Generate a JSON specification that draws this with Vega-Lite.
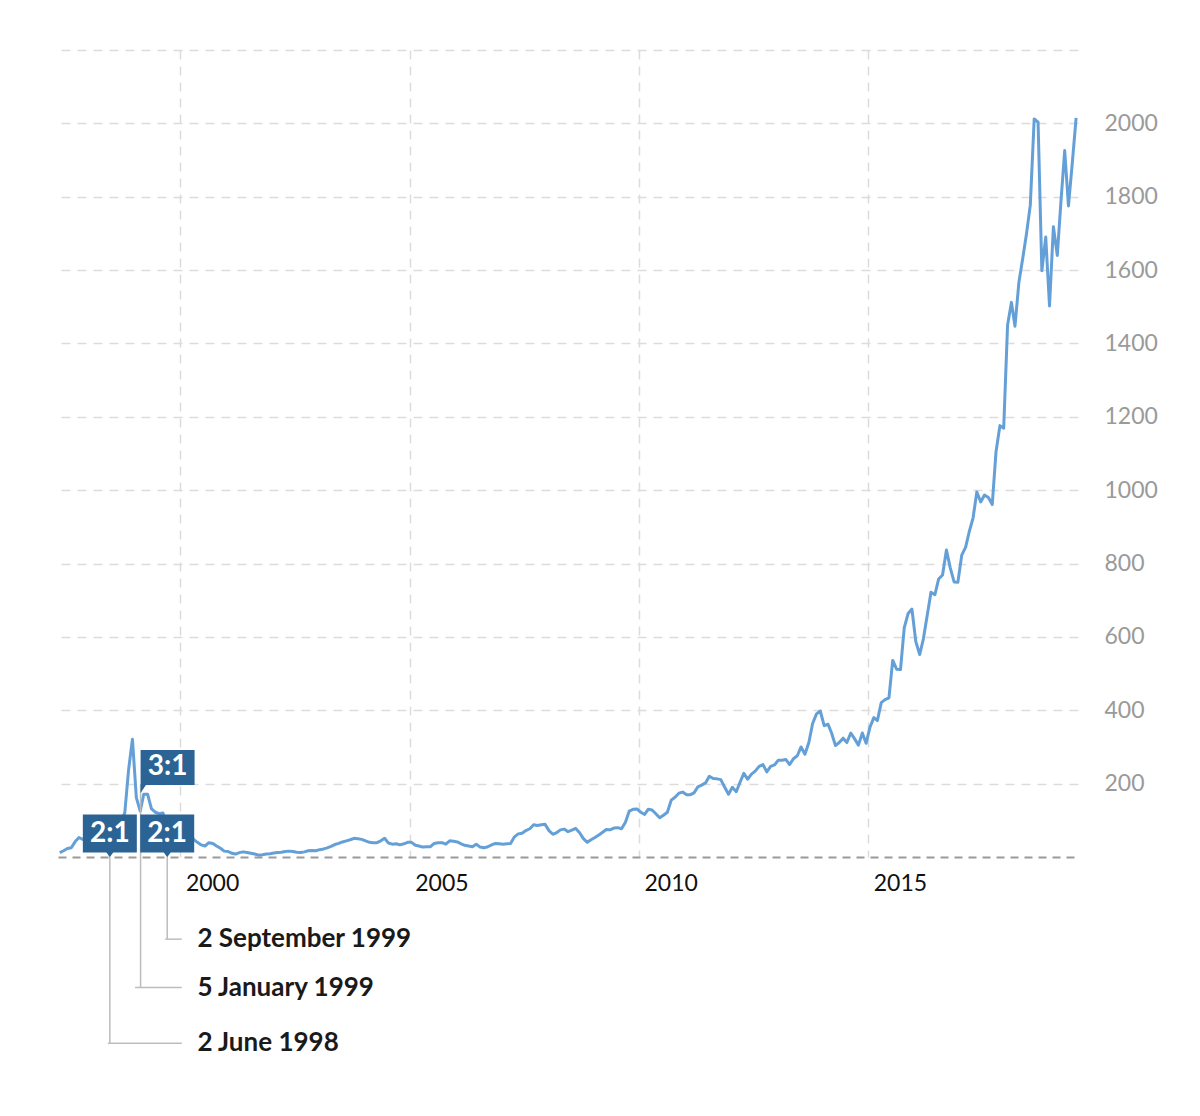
{
  "$schema": "https://vega.github.io/schema/vega-lite/v6.json",
  "width": 1020,
  "height": 807,
  "padding": {"left": 58, "top": 50, "right": 0, "bottom": 0},
  "background": "white",
  "config": {"view": {"stroke": null}, "font": "Lato"},
  "datasets": {
    "prices": [
      {"date":"1997-05-15","price":12},{"date":"1997-06-15","price":17},{"date":"1997-07-15","price":23},{"date":"1997-08-15","price":25},{"date":"1997-09-15","price":42},{"date":"1997-10-15","price":53},{"date":"1997-11-15","price":48},{"date":"1997-12-15","price":56},
      {"date":"1998-01-15","price":58},{"date":"1998-02-15","price":68},{"date":"1998-03-15","price":80},{"date":"1998-04-15","price":92},{"date":"1998-05-15","price":85},{"date":"1998-06-15","price":95},{"date":"1998-07-15","price":110},{"date":"1998-08-15","price":92},{"date":"1998-09-15","price":100},{"date":"1998-10-15","price":120},{"date":"1998-11-15","price":240},{"date":"1998-12-15","price":321},
      {"date":"1999-01-15","price":162},{"date":"1999-02-15","price":125},{"date":"1999-03-15","price":171},{"date":"1999-04-15","price":171},{"date":"1999-05-15","price":132},{"date":"1999-06-15","price":122},{"date":"1999-07-15","price":118},{"date":"1999-08-15","price":120},{"date":"1999-09-15","price":80},{"date":"1999-10-15","price":70},{"date":"1999-11-15","price":86},{"date":"1999-12-15","price":76},
      {"date":"2000-01-15","price":65},{"date":"2000-02-15","price":66},{"date":"2000-03-15","price":67},{"date":"2000-04-15","price":48},{"date":"2000-05-15","price":40},{"date":"2000-06-15","price":33},{"date":"2000-07-15","price":30},{"date":"2000-08-15","price":39},{"date":"2000-09-15","price":37},{"date":"2000-10-15","price":30},{"date":"2000-11-15","price":24},{"date":"2000-12-15","price":16},
      {"date":"2001-01-15","price":15},{"date":"2001-02-15","price":10},{"date":"2001-03-15","price":8},{"date":"2001-04-15","price":12},{"date":"2001-05-15","price":14},{"date":"2001-06-15","price":12},{"date":"2001-07-15","price":10},{"date":"2001-08-15","price":8},{"date":"2001-09-15","price":5},{"date":"2001-10-15","price":6},{"date":"2001-11-15","price":8},{"date":"2001-12-15","price":9},
      {"date":"2002-01-15","price":11},{"date":"2002-02-15","price":12},{"date":"2002-03-15","price":13},{"date":"2002-04-15","price":15},{"date":"2002-05-15","price":16},{"date":"2002-06-15","price":15},{"date":"2002-07-15","price":13},{"date":"2002-08-15","price":12},{"date":"2002-09-15","price":14},{"date":"2002-10-15","price":17},{"date":"2002-11-15","price":18},{"date":"2002-12-15","price":17},
      {"date":"2003-01-15","price":20},{"date":"2003-02-15","price":22},{"date":"2003-03-15","price":25},{"date":"2003-04-15","price":29},{"date":"2003-05-15","price":34},{"date":"2003-06-15","price":37},{"date":"2003-07-15","price":41},{"date":"2003-08-15","price":44},{"date":"2003-09-15","price":47},{"date":"2003-10-15","price":51},{"date":"2003-11-15","price":50},{"date":"2003-12-15","price":48},
      {"date":"2004-01-15","price":44},{"date":"2004-02-15","price":40},{"date":"2004-03-15","price":39},{"date":"2004-04-15","price":39},{"date":"2004-05-15","price":44},{"date":"2004-06-15","price":51},{"date":"2004-07-15","price":38},{"date":"2004-08-15","price":35},{"date":"2004-09-15","price":36},{"date":"2004-10-15","price":33},{"date":"2004-11-15","price":36},{"date":"2004-12-15","price":40},
      {"date":"2005-01-15","price":40},{"date":"2005-02-15","price":32},{"date":"2005-03-15","price":30},{"date":"2005-04-15","price":27},{"date":"2005-05-15","price":28},{"date":"2005-06-15","price":28},{"date":"2005-07-15","price":37},{"date":"2005-08-15","price":39},{"date":"2005-09-15","price":39},{"date":"2005-10-15","price":35},{"date":"2005-11-15","price":44},{"date":"2005-12-15","price":43},
      {"date":"2006-01-15","price":41},{"date":"2006-02-15","price":36},{"date":"2006-03-15","price":32},{"date":"2006-04-15","price":30},{"date":"2006-05-15","price":28},{"date":"2006-06-15","price":35},{"date":"2006-07-15","price":27},{"date":"2006-08-15","price":25},{"date":"2006-09-15","price":28},{"date":"2006-10-15","price":33},{"date":"2006-11-15","price":37},{"date":"2006-12-15","price":36},
      {"date":"2007-01-15","price":35},{"date":"2007-02-15","price":36},{"date":"2007-03-15","price":37},{"date":"2007-04-15","price":55},{"date":"2007-05-15","price":63},{"date":"2007-06-15","price":65},{"date":"2007-07-15","price":72},{"date":"2007-08-15","price":77},{"date":"2007-09-15","price":88},{"date":"2007-10-15","price":86},{"date":"2007-11-15","price":88},{"date":"2007-12-15","price":89},
      {"date":"2008-01-15","price":72},{"date":"2008-02-15","price":62},{"date":"2008-03-15","price":66},{"date":"2008-04-15","price":74},{"date":"2008-05-15","price":76},{"date":"2008-06-15","price":69},{"date":"2008-07-15","price":73},{"date":"2008-08-15","price":78},{"date":"2008-09-15","price":66},{"date":"2008-10-15","price":50},{"date":"2008-11-15","price":40},{"date":"2008-12-15","price":47},
      {"date":"2009-01-15","price":53},{"date":"2009-02-15","price":60},{"date":"2009-03-15","price":67},{"date":"2009-04-15","price":75},{"date":"2009-05-15","price":74},{"date":"2009-06-15","price":79},{"date":"2009-07-15","price":80},{"date":"2009-08-15","price":77},{"date":"2009-09-15","price":95},{"date":"2009-10-15","price":125},{"date":"2009-11-15","price":130},{"date":"2009-12-15","price":131},
      {"date":"2010-01-15","price":122},{"date":"2010-02-15","price":116},{"date":"2010-03-15","price":130},{"date":"2010-04-15","price":128},{"date":"2010-05-15","price":118},{"date":"2010-06-15","price":107},{"date":"2010-07-15","price":114},{"date":"2010-08-15","price":122},{"date":"2010-09-15","price":155},{"date":"2010-10-15","price":163},{"date":"2010-11-15","price":174},{"date":"2010-12-15","price":177},
      {"date":"2011-01-15","price":170},{"date":"2011-02-15","price":170},{"date":"2011-03-15","price":175},{"date":"2011-04-15","price":191},{"date":"2011-05-15","price":196},{"date":"2011-06-15","price":202},{"date":"2011-07-15","price":220},{"date":"2011-08-15","price":214},{"date":"2011-09-15","price":213},{"date":"2011-10-15","price":211},{"date":"2011-11-15","price":190},{"date":"2011-12-15","price":171},
      {"date":"2012-01-15","price":190},{"date":"2012-02-15","price":178},{"date":"2012-03-15","price":203},{"date":"2012-04-15","price":228},{"date":"2012-05-15","price":212},{"date":"2012-06-15","price":226},{"date":"2012-07-15","price":234},{"date":"2012-08-15","price":247},{"date":"2012-09-15","price":252},{"date":"2012-10-15","price":232},{"date":"2012-11-15","price":247},{"date":"2012-12-15","price":251},
      {"date":"2013-01-15","price":264},{"date":"2013-02-15","price":264},{"date":"2013-03-15","price":266},{"date":"2013-04-15","price":252},{"date":"2013-05-15","price":268},{"date":"2013-06-15","price":276},{"date":"2013-07-15","price":300},{"date":"2013-08-15","price":280},{"date":"2013-09-15","price":312},{"date":"2013-10-15","price":364},{"date":"2013-11-15","price":390},{"date":"2013-12-15","price":398},
      {"date":"2014-01-15","price":358},{"date":"2014-02-15","price":362},{"date":"2014-03-15","price":338},{"date":"2014-04-15","price":304},{"date":"2014-05-15","price":312},{"date":"2014-06-15","price":324},{"date":"2014-07-15","price":312},{"date":"2014-08-15","price":338},{"date":"2014-09-15","price":322},{"date":"2014-10-15","price":305},{"date":"2014-11-15","price":338},{"date":"2014-12-15","price":310},
      {"date":"2015-01-15","price":354},{"date":"2015-02-15","price":380},{"date":"2015-03-15","price":372},{"date":"2015-04-15","price":421},{"date":"2015-05-15","price":429},{"date":"2015-06-15","price":434},{"date":"2015-07-15","price":536},{"date":"2015-08-15","price":512},{"date":"2015-09-15","price":511},{"date":"2015-10-15","price":625},{"date":"2015-11-15","price":664},{"date":"2015-12-15","price":676},
      {"date":"2016-01-15","price":587},{"date":"2016-02-15","price":552},{"date":"2016-03-15","price":594},{"date":"2016-04-15","price":659},{"date":"2016-05-15","price":722},{"date":"2016-06-15","price":715},{"date":"2016-07-15","price":758},{"date":"2016-08-15","price":769},{"date":"2016-09-15","price":837},{"date":"2016-10-15","price":789},{"date":"2016-11-15","price":750},{"date":"2016-12-15","price":749},
      {"date":"2017-01-15","price":823},{"date":"2017-02-15","price":845},{"date":"2017-03-15","price":886},{"date":"2017-04-15","price":924},{"date":"2017-05-15","price":995},{"date":"2017-06-15","price":968},{"date":"2017-07-15","price":987},{"date":"2017-08-15","price":980},{"date":"2017-09-15","price":961},{"date":"2017-10-15","price":1105},{"date":"2017-11-15","price":1176},{"date":"2017-12-15","price":1169},
      {"date":"2018-01-15","price":1450},{"date":"2018-02-15","price":1512},{"date":"2018-03-15","price":1447},{"date":"2018-04-15","price":1566},{"date":"2018-05-15","price":1630},{"date":"2018-06-15","price":1700},{"date":"2018-07-15","price":1777},{"date":"2018-08-15","price":2012},{"date":"2018-09-15","price":2003},{"date":"2018-10-15","price":1598},{"date":"2018-11-15","price":1690},{"date":"2018-12-15","price":1502},
      {"date":"2019-01-15","price":1718},{"date":"2019-02-15","price":1640},{"date":"2019-03-15","price":1781},{"date":"2019-04-15","price":1926},{"date":"2019-05-15","price":1775},{"date":"2019-06-15","price":1894},{"date":"2019-07-15","price":2015}
    ],
    "splits": [
      {"date":"1998-06-02","ratio":"2:1","label":"2 June 1998","depth":-508},
      {"date":"1999-01-05","ratio":"3:1","label":"5 January 1999","depth":-356},
      {"date":"1999-09-02","ratio":"2:1","label":"2 September 1999","depth":-224}
    ]
  },
  "layer": [
    {
      "data": {"name": "prices"},
      "mark": {"type": "line", "color": "#64a0d7", "strokeWidth": 3, "strokeJoin": "round"},
      "encoding": {
        "x": {
          "field": "date", "type": "temporal",
          "scale": {"type": "utc", "padding": 0, "nice": false, "domain": [{"year": 1997, "month": 5, "date": 1, "utc": true}, {"year": 2019, "month": 7, "date": 30, "utc": true}]},
          "axis": {
            "title": null,
            "values": [{"year": 2000, "month": 1, "date": 1, "utc": true}, {"year": 2005, "month": 1, "date": 1, "utc": true}, {"year": 2010, "month": 1, "date": 1, "utc": true}, {"year": 2015, "month": 1, "date": 1, "utc": true}],
            "format": "%Y", "formatType": "utc",
            "labelAlign": "left", "labelOffset": 5, "labelBaseline": "top", "labelPadding": 15,
            "labelFontSize": 23, "labelColor": "#111", "labelFont": "Lato",
            "ticks": false, "tickSize": 0,
            "grid": true, "gridColor": "#dcdcdc", "gridDash": [9, 7], "gridWidth": 1.5,
            "domain": true, "domainColor": "#9a9a9a", "domainDash": [8, 6], "domainWidth": 2
          }
        },
        "y": {
          "field": "price", "type": "quantitative",
          "scale": {"domain": [0, 2200], "nice": false, "zero": false},
          "axis": {
            "title": null, "orient": "right",
            "values": [200, 400, 600, 800, 1000, 1200, 1400, 1600, 1800, 2000, 2200],
            "format": "d",
            "labelExpr": "datum.value >= 2200 ? '' : datum.label",
            "labelFontSize": 23, "labelColor": "#9a9a9a", "labelFont": "Lato",
            "labelPadding": 26, "labelAlign": "left", "labelBaseline": "middle",
            "ticks": false, "tickSize": 0, "domain": false,
            "grid": true, "gridColor": "#dcdcdc", "gridDash": [9, 7], "gridWidth": 1.5
          }
        }
      }
    },
    {
      "data": {"name": "splits"},
      "transform": [{"filter": "datum.ratio == '2:1'"}],
      "mark": {"type": "rule", "color": "#bdbdbd", "strokeWidth": 1.5, "xOffset": 2},
      "encoding": {
        "x": {"field": "date", "type": "temporal"},
        "y": {"field": "depth", "type": "quantitative"},
        "y2": {"datum": 0}
      }
    },
    {
      "data": {"name": "splits"},
      "transform": [{"filter": "datum.ratio == '3:1'"}],
      "mark": {"type": "rule", "color": "#bdbdbd", "strokeWidth": 1.5, "xOffset": 5.5},
      "encoding": {
        "x": {"field": "date", "type": "temporal"},
        "y": {"field": "depth", "type": "quantitative"},
        "y2": {"datum": 196}
      }
    },
    {
      "data": {"name": "splits"},
      "mark": {"type": "rule", "color": "#bdbdbd", "strokeWidth": 1.5},
      "encoding": {
        "x": {"field": "date", "type": "temporal"},
        "x2": {"datum": {"year": 2000, "month": 1, "date": 12, "utc": true}},
        "y": {"field": "depth", "type": "quantitative"}
      }
    },
    {
      "data": {"name": "splits"},
      "mark": {"type": "text", "align": "left", "baseline": "middle", "fontSize": 26, "fontWeight": "bold", "font": "Lato", "color": "#1a1a1a", "dx": 17},
      "encoding": {
        "x": {"datum": {"year": 2000, "month": 1, "date": 1, "utc": true}, "type": "temporal"},
        "y": {"field": "depth", "type": "quantitative"},
        "text": {"field": "label", "type": "nominal"}
      }
    },
    {
      "data": {"name": "splits"},
      "transform": [{"filter": "datum.ratio == '2:1'"}],
      "mark": {"type": "bar", "width": 54, "xOffset": 2, "color": "#2b6494"},
      "encoding": {
        "x": {"field": "date", "type": "temporal"},
        "y": {"datum": 12, "type": "quantitative"},
        "y2": {"datum": 116}
      }
    },
    {
      "data": {"name": "splits"},
      "transform": [{"filter": "datum.ratio == '3:1'"}],
      "mark": {"type": "bar", "width": 54, "xOffset": 32.5, "color": "#2b6494"},
      "encoding": {
        "x": {"field": "date", "type": "temporal"},
        "y": {"datum": 196, "type": "quantitative"},
        "y2": {"datum": 292}
      }
    },
    {
      "data": {"name": "splits"},
      "transform": [{"filter": "datum.ratio == '2:1'"}],
      "mark": {"type": "point", "shape": "M-1,-0.3 L1,-0.3 L0,1.1 Z", "size": 70, "filled": true, "color": "#2b6494", "opacity": 1, "strokeWidth": 0, "xOffset": 2},
      "encoding": {
        "x": {"field": "date", "type": "temporal"},
        "y": {"datum": 12, "type": "quantitative"}
      }
    },
    {
      "data": {"name": "splits"},
      "transform": [{"filter": "datum.ratio == '3:1'"}],
      "mark": {"type": "point", "shape": "M0,-0.3 L1.5,-0.3 L0,2 Z", "size": 64, "filled": true, "color": "#2b6494", "opacity": 1, "strokeWidth": 0, "xOffset": 5.5},
      "encoding": {
        "x": {"field": "date", "type": "temporal"},
        "y": {"datum": 196, "type": "quantitative"}
      }
    },
    {
      "data": {"name": "splits"},
      "transform": [{"filter": "datum.ratio == '2:1'"}],
      "mark": {"type": "text", "align": "center", "baseline": "middle", "fontSize": 28, "fontWeight": "bold", "font": "Lato", "color": "white", "dx": 2},
      "encoding": {
        "x": {"field": "date", "type": "temporal"},
        "y": {"datum": 64, "type": "quantitative"},
        "text": {"field": "ratio", "type": "nominal"}
      }
    },
    {
      "data": {"name": "splits"},
      "transform": [{"filter": "datum.ratio == '3:1'"}],
      "mark": {"type": "text", "align": "center", "baseline": "middle", "fontSize": 28, "fontWeight": "bold", "font": "Lato", "color": "white", "dx": 32.5},
      "encoding": {
        "x": {"field": "date", "type": "temporal"},
        "y": {"datum": 244, "type": "quantitative"},
        "text": {"field": "ratio", "type": "nominal"}
      }
    }
  ]
}
